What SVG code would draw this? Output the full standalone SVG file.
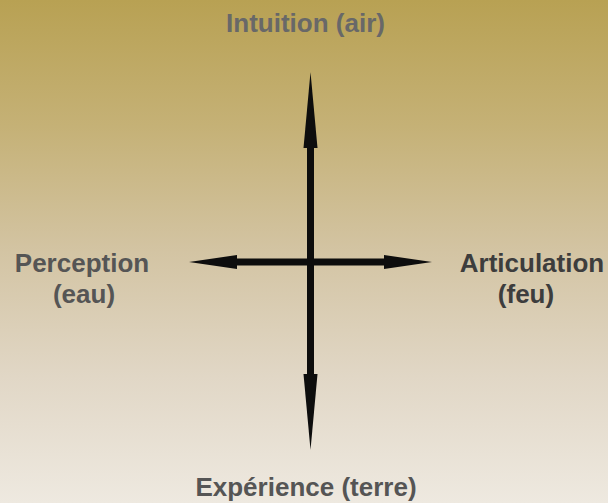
<svg xmlns="http://www.w3.org/2000/svg" width="608" height="503" viewBox="0 0 608 503">
<defs>
<linearGradient id="bg" x1="0" y1="0" x2="0" y2="1">
<stop offset="0" stop-color="#b8a153"/>
<stop offset="0.25" stop-color="#c5b176"/>
<stop offset="0.5" stop-color="#d3c4a3"/>
<stop offset="0.75" stop-color="#e1d7c6"/>
<stop offset="1" stop-color="#eee9e0"/>
</linearGradient>
</defs>
<style>
.lbl{font-family:"Liberation Sans",Arial,sans-serif;font-weight:bold;font-size:26px;text-anchor:middle}
.line{stroke:#0d0d0d;stroke-width:7;fill:none}
.head{fill:#0d0d0d}
</style>
<rect x="0" y="0" width="608" height="503" fill="url(#bg)"/>
<g id="connectors">
<line class="line" x1="310.5" y1="140" x2="310.5" y2="380"/>
<line class="line" x1="230" y1="262" x2="390" y2="262"/>
<polygon class="head" points="310.5,72 317.5,148 303.5,148"/>
<polygon class="head" points="310.5,450 317.5,374 303.5,374"/>
<polygon class="head" points="189,262 237,255 237,269"/>
<polygon class="head" points="432,262 384,255 384,269"/>
</g>
<g id="intuition"><text class="lbl" x="305.5" y="32" fill="#686868">Intuition (air)</text></g>
<g id="perception"><text class="lbl" fill="#555555"><tspan x="82" y="272">Perception</tspan><tspan x="84" y="303">(eau)</tspan></text></g>
<g id="articulation"><text class="lbl" fill="#3d3d3d"><tspan x="532" y="272">Articulation</tspan><tspan x="526" y="303">(feu)</tspan></text></g>
<g id="experience"><text class="lbl" x="306" y="496" fill="#555555">Expérience (terre)</text></g>
</svg>
